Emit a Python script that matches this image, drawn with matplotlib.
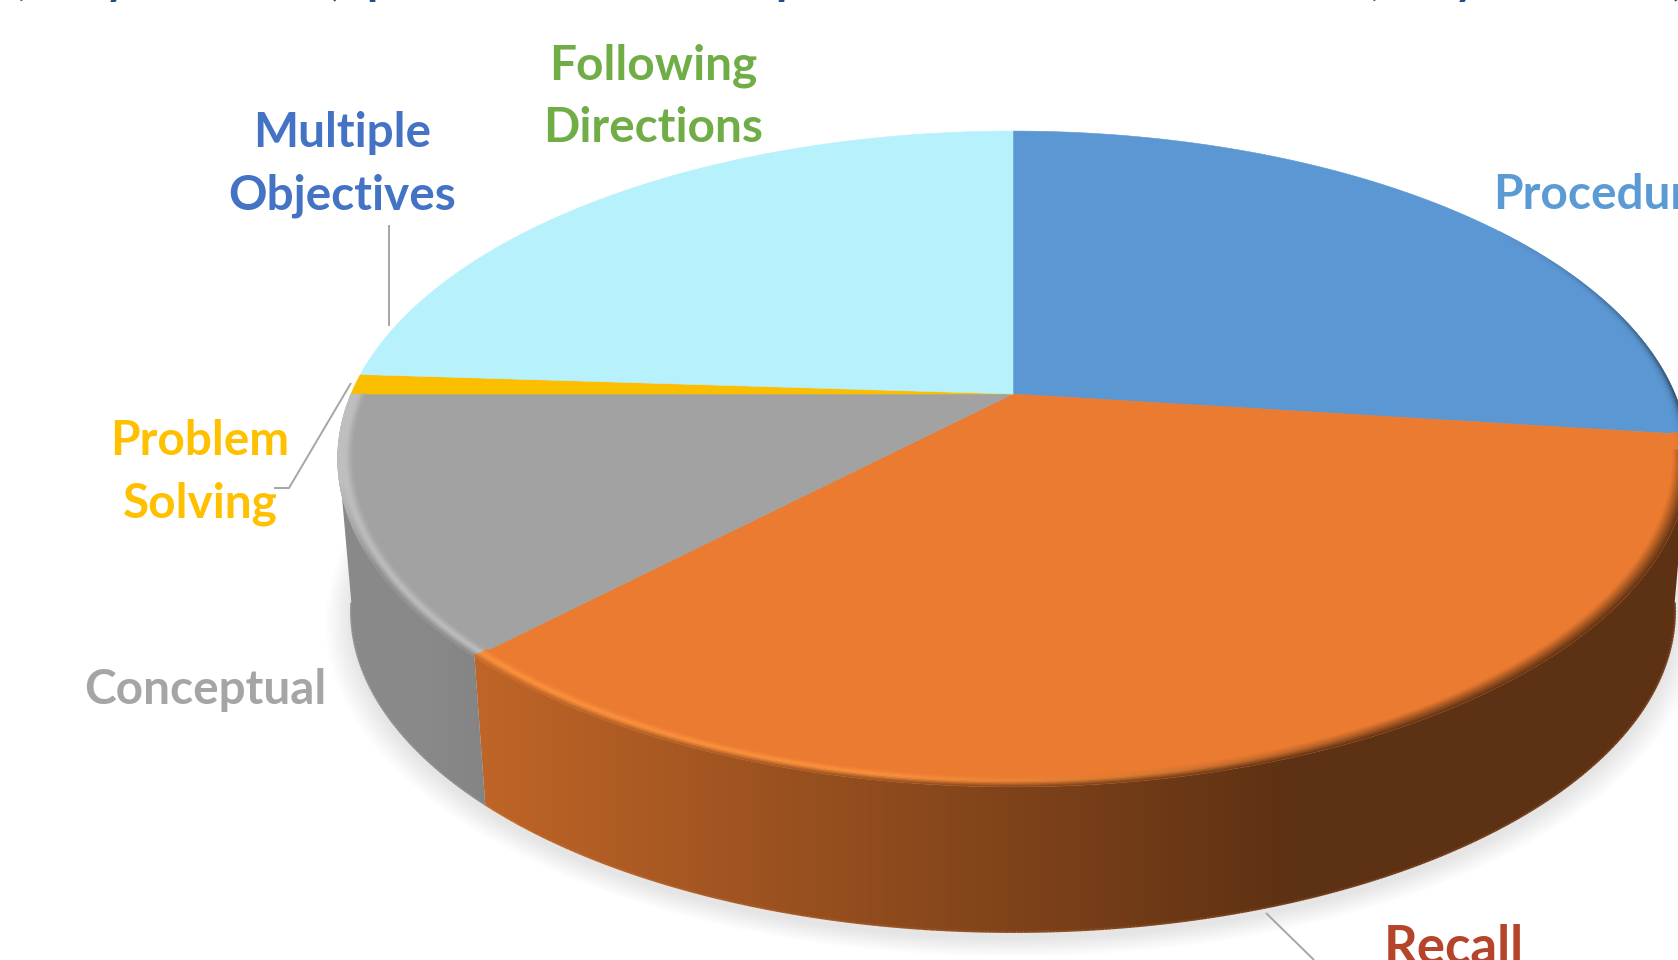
import numpy as np
import matplotlib
matplotlib.use("Agg")
import matplotlib.pyplot as plt
from matplotlib.collections import PolyCollection, LineCollection
from matplotlib.colors import to_rgb
from matplotlib.patches import Polygon

# share of each question type, clockwise from twelve o'clock
categories = ["Procedural", "Recall", "Conceptual", "Problem\nSolving",
              "Multiple\nObjectives", "Following\nDirections"]
shares = [27.0, 35.3, 12.7, 1.0, 0.0, 24.0]
face_colors = ["#5B97D3", "#EA7B30", "#A2A2A2", "#FBBF00", "#4472C4", "#B7F1FB"]
label_colors = ["#5B9BD5", "#B5452A", "#A5A5A5", "#FFC000", "#4472C4", "#70AD47"]
label_sizes = [34.4, 38, 34.4, 34.4, 34.4, 34.4]
header_marks = ["(", "y", ",", "p", "p", "(", "y", ","]

# label anchor: x, first baseline, alignment
label_pos = [(1493, 209, "left"), (1384, 964, "left"), (205, 704, "center"),
             (200, 455, "center"), (342, 147, "center"), (653, 79, "center")]
header_x = [12, 105, 331, 366, 775, 1365, 1454, 1672]
leaders = [[(1266, 913), (1314, 960)],
           [(351, 383), (289, 488), (274, 488)],
           [(389, 225), (389, 326)]]

plt.rcParams["font.family"] = ["Lato", "DejaVu Sans"]

# perspective of the disc
CX, CY = 1013, 394
PERSP = 0.198
AX, AY = 662, 315
VANISH_Y = 8040
DEPTH = 0.98


def project(t_deg, r=1.0, depth=1.0):
    t = np.radians(t_deg)
    u = r * np.sin(t)
    v = r * np.cos(t)
    w = 1 + PERSP * v
    x = CX + AX * u / w
    y = CY - AY * v / w
    return np.column_stack([CX + depth * (x - CX), VANISH_Y + depth * (y - VANISH_Y)])


def mix(a, b, f):
    return tuple(np.array(a) * (1 - f) + np.array(b) * f)


def wall_shade(x):
    return np.clip(0.82 - 0.42 * (x - 476) / 814, 0.40, 0.85)


fig = plt.figure(figsize=(16.78, 9.6), dpi=100)
ax = fig.add_axes([0, 0, 1, 1])

# slice boundaries in degrees
edges = np.concatenate([[0], np.cumsum(shares)]) / sum(shares) * 360

# soft shadow under the base
ring = np.arange(0, 360.5, 1.0)
for g in range(0, 26):
    pts = project(ring, r=1 + g / 662, depth=DEPTH) + [0, 7]
    ax.fill(pts[:, 0], pts[:, 1], color="black", alpha=0.0048, lw=0, zorder=1)


def slice_of(t):
    return min(np.searchsorted(edges, t, side="right") - 1, len(shares) - 1)


# side wall of each slice: horizontal shade image clipped to the wall outline
xs = np.arange(0, 1678)
for start, end, col in zip(edges[:-1], edges[1:], face_colors):
    lo, hi = max(start, 100), min(end, 260)
    if hi <= lo:
        continue
    ts = np.append(np.arange(lo, hi, 0.25), hi)
    outline = np.vstack([project(ts), project(ts[::-1], depth=DEPTH)])
    patch = Polygon(outline, closed=True, transform=ax.transData, fc="none", ec="none")
    ax.add_patch(patch)
    shade = np.array(to_rgb(col))[None, None, :] * wall_shade(xs)[None, :, None]
    im = ax.imshow(shade, extent=(0, 1678, 960, 0), aspect="auto",
                   interpolation="nearest", zorder=2)
    im.set_clip_path(patch)

    # thin edge along the foot of the wall
    foot = project(ts, depth=DEPTH)
    foot_cols = [mix(np.array(to_rgb(col)) * wall_shade(x), to_rgb(col), 0.12) for x in foot[:-1, 0]]
    segs = np.stack([foot[:-1], foot[1:]], axis=1)
    ax.add_collection(LineCollection(segs, colors=foot_cols, linewidths=1.6, zorder=2.5))

ax.set_xlim(0, 1678)
ax.set_ylim(960, 0)
ax.axis("off")

# top face
for start, end, col in zip(edges[:-1], edges[1:], face_colors):
    if end - start == 0:
        continue
    arc = project(np.arange(start, end, 0.25).tolist() + [end])
    pts = np.vstack([[CX, CY], arc])
    ax.fill(pts[:, 0], pts[:, 1], color=col, lw=0.4, zorder=3)

# rounded rim: highlight on the lit left side, dark blend towards the right
rim_quads, rim_colors = [], []
steps = np.linspace(0.978, 1.0, 9)
for t0 in np.arange(55, 270, 0.5):
    t1 = t0 + 0.5
    tm = t0 + 0.25
    base = np.array(to_rgb(face_colors[slice_of(tm)]))
    x = project(tm)[0, 0]
    dark = base * wall_shade(x)
    lit = np.clip((tm - 150) / 40, 0, 1)
    bright = np.clip(base * 1.14 + 0.03, 0, 1)
    peak = mix(mix(base, dark, 0.5), bright, lit)
    # above the wall the outer rim meets the background, so it stays light
    outer = mix(dark, peak, np.clip((tm - 240) / 15, 0, 1))
    for j, (r0, r1) in enumerate(zip(steps[:-1], steps[1:])):
        q = (j + 0.5) / (len(steps) - 1)
        if tm < 100:
            # back of the disc only gets a thin dark line
            fade = np.clip((tm - 55) / 40, 0, 1)
            col = mix(base, np.array([0.15, 0.22, 0.3]), fade * q ** 4)
        elif q < 0.5:
            col = mix(base, peak, q / 0.5)
        else:
            col = mix(peak, outer, (q - 0.5) / 0.5)
        rim_quads.append(np.vstack([project(np.array([t0, t1]), r=r0),
                                    project(np.array([t1, t0]), r=r1)]))
        rim_colors.append(col)
ax.add_collection(PolyCollection(rim_quads, facecolors=rim_colors, edgecolors=rim_colors,
                                 linewidths=0.3, zorder=4))

# leader lines
ax.add_collection(LineCollection(leaders, colors="#A6A6A6", linewidths=1.4, zorder=5))

# category labels
for name, (x, y, ha), col, size in zip(categories, label_pos, label_colors, label_sizes):
    for i, line in enumerate(name.split("\n")):
        ax.text(x, y + i * 63, line, color=col, fontsize=size, fontweight="bold",
                ha=ha, va="baseline", zorder=6)

# bottom of the heading line running off the top edge
for x, ch in zip(header_x, header_marks):
    ax.text(x, -6, ch, color="#1F4E8C", fontsize=33, fontweight="bold",
            ha="left", va="baseline", zorder=6)

fig.savefig("out.png", dpi=100, facecolor="white")
